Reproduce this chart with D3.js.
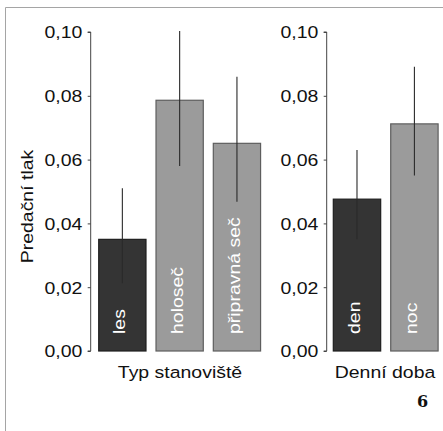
<!DOCTYPE html>
<html><head><meta charset="utf-8">
<script src="https://cdn.jsdelivr.net/npm/d3@7"></script>
<style>body{margin:0;background:#fff}svg{display:block}</style>
</head><body>
<script>
const habitatCats = ["les", "holoseč", "připravná seč"];
const habitatMean = [0.035, 0.0786, 0.0651];
const habitatLow  = [0.0212, 0.058, 0.0468];
const habitatHigh = [0.051, 0.1003, 0.086];
const timeCats = ["den", "noc"];
const timeMean = [0.0476, 0.0712];
const timeLow  = [0.035, 0.055];
const timeHigh = [0.063, 0.0891];
const yTicks = [0, 0.02, 0.04, 0.06, 0.08, 0.10];
const panelTitles = ["Typ stanoviště", "Denní doba"];
const yTitle = "Predační tlak";
const figNo = "6";

const W = 443, H = 431;
const svg = d3.select("body").append("svg").attr("width", W).attr("height", H);
const font = "Helvetica, Arial, 'Liberation Sans', sans-serif";
const FS = 16.5, SX = 1.18;

// frame
svg.append("line").attr("x1",5.5).attr("x2",W).attr("y1",7.5).attr("y2",7.5).attr("stroke","#a5a5a5");
svg.append("line").attr("x1",5.5).attr("x2",5.5).attr("y1",7.5).attr("y2",H).attr("stroke","#a5a5a5");

const y = d3.scaleLinear().domain([0, 0.10]).range([351, 32]);
const fmt = d => d3.format(".2f")(d).replace(".", ",");

function stretched(sel) {
  return sel.attr("font-family", font).attr("font-size", FS);
}

function panel(axisX, x1, pOuter, cats, mean, lo, hi, title, titleX) {
  const x = d3.scaleBand().domain(cats).range([axisX, x1]).paddingInner(0.175).paddingOuter(pOuter);
  const g = svg.append("g");
  const ax = d3.axisLeft(y).tickValues(yTicks).tickFormat(fmt).tickSize(3).tickPadding(5);
  const a = g.append("g").attr("transform", `translate(${axisX},0)`).call(ax);
  a.select(".domain").attr("stroke","#444").attr("d", `M-3,${y(0.10)}H0V${y(0)}H-3`);
  a.selectAll(".tick line").attr("stroke","#444");
  a.selectAll(".tick text")
    .attr("font-family", font).attr("font-size", FS).attr("fill","#111")
    .attr("x", -8.4 / SX).attr("dy", "0.36em")
    .attr("transform", `scale(${SX},1)`);
  const data = cats.map((c,i)=>({c, m:mean[i], lo:lo[i], hi:hi[i], i}));
  g.selectAll("rect.bar").data(data).join("rect")
    .attr("x", d=>x(d.c)).attr("width", x.bandwidth())
    .attr("y", d=>y(d.m)).attr("height", d=>y(0)-y(d.m))
    .attr("fill", d=>d.i===0?"#343434":"#9b9b9b")
    .attr("stroke", d=>d.i===0?"#1e1e1e":"#5e5e5e").attr("stroke-width",1.2);
  g.selectAll("line.err").data(data).join("line")
    .attr("x1", d=>x(d.c)+x.bandwidth()/2).attr("x2", d=>x(d.c)+x.bandwidth()/2)
    .attr("y1", d=>y(d.hi)).attr("y2", d=>y(d.lo))
    .attr("stroke","#2a2a2a").attr("stroke-width",1.1);
  stretched(g.selectAll("text.lab").data(data).join("text"))
    .attr("transform", d=>`translate(${x(d.c)+x.bandwidth()/2+3},${334}) rotate(-90) scale(${SX},1)`)
    .attr("fill","#fff")
    .text(d=>d.c);
  stretched(g.append("text"))
    .attr("transform", `translate(${titleX},378) scale(${SX},1)`).attr("text-anchor","middle")
    .attr("fill","#111").text(title);
}

panel(90.7, 268.6, 0.14, habitatCats, habitatMean, habitatLow, habitatHigh, panelTitles[0], 180);
panel(326.7, 444.7, 0.115, timeCats, timeMean, timeLow, timeHigh, panelTitles[1], 385);

stretched(svg.append("text"))
  .attr("transform","translate(32.5,206.5) rotate(-90) scale(" + SX + ",1)").attr("text-anchor","middle")
  .attr("fill","#111").text(yTitle);
svg.append("text").attr("x", 422.5).attr("y", 406.7).attr("text-anchor","middle")
  .attr("font-family","'DejaVu Serif', 'Liberation Serif', serif").attr("font-weight","bold")
  .attr("font-size", 16).attr("fill","#111").text(figNo);
</script>
</body></html>
